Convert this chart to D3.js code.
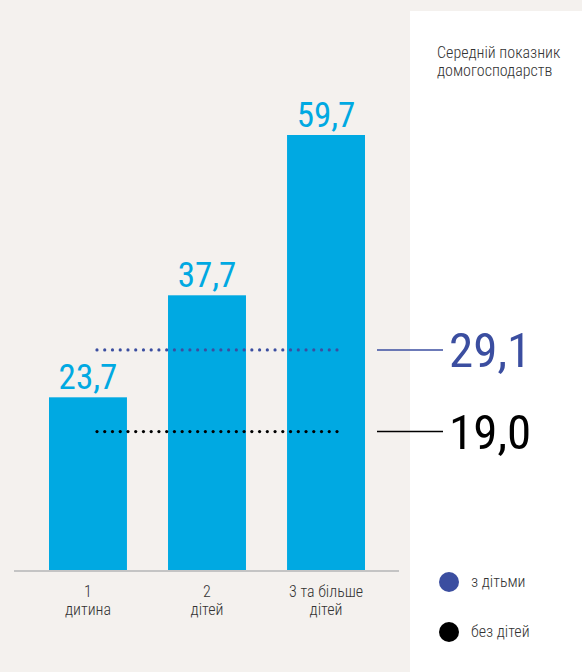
<!DOCTYPE html>
<html><head><meta charset="utf-8">
<script src="https://cdn.jsdelivr.net/npm/d3@7"></script>
<style>
html,body{margin:0;padding:0;background:#f4f1ee;}
svg{display:block;}
.cond{font-family:"Roboto Condensed","Liberation Sans Narrow","DejaVu Sans Condensed",sans-serif;}
.light{font-weight:300;}
</style></head>
<body>
<svg id="chart" width="582" height="672"></svg>
<script>
const categories = [["1","дитина"],["2","дітей"],["3 та більше","дітей"]];
const values = [23.7, 37.7, 59.7];
const valueLabels = ["23,7","37,7","59,7"];
const averages = [29.1, 19.0];
const averageLabels = ["29,1","19,0"];
const seriesNames = ["з дітьми","без дітей"];
const seriesColors = ["#3b4ea0","#000000"];
const title = ["Середній показник","домогосподарств"];

const svg = d3.select("#chart");
const W = 582, H = 672;
svg.append("rect").attr("width",W).attr("height",H).attr("fill","#f4f1ee");
svg.append("rect").attr("x",410).attr("y",11).attr("width",W-410).attr("height",H-11).attr("fill","#ffffff");

const baseY = 570;
const x = d3.scaleBand().domain(d3.range(values.length)).range([49,365]).paddingInner(0.345).paddingOuter(0);
const y = d3.scaleLinear().domain([0,59.7]).range([baseY,135]);

// bars
svg.selectAll(".bar").data(values).join("rect")
  .attr("x",(d,i)=>x(i)).attr("width",x.bandwidth())
  .attr("y",d=>y(d)).attr("height",d=>baseY-y(d))
  .attr("fill","#00a9e2");

// value labels
svg.selectAll(".vl").data(values).join("text").attr("class","cond")
  .attr("x",(d,i)=>x(i)+x.bandwidth()/2).attr("y",d=>y(d)-8)
  .attr("text-anchor","middle").attr("font-size",35).attr("fill","#00a9e2")
  .text((d,i)=>valueLabels[i]);

// baseline axis
const axis = d3.axisBottom(x).tickSize(0).tickFormat("");
const ag = svg.append("g").attr("transform",`translate(0,${baseY})`).call(axis);
ag.select(".domain").remove();
svg.append("line").attr("x1",14).attr("x2",399).attr("y1",baseY+1).attr("y2",baseY+1)
  .attr("stroke","#c4c4c4").attr("stroke-width",2);

// category labels
categories.forEach((c,i)=>{
  const t = svg.append("text").attr("class","cond light").attr("text-anchor","middle")
    .attr("font-size",16).attr("fill","#333");
  c.forEach((line,j)=>{
    t.append("tspan").attr("x",x(i)+x.bandwidth()/2).attr("y",597+j*18).text(line);
  });
});

// average dotted lines
const dotX0 = 97, dotX1 = 337;
averages.forEach((v,k)=>{
  const yy = y(v) + (k===0 ? -8 : 0);
  const n = Math.round((dotX1-dotX0)/7.67);
  const pts = d3.range(n+1).map(i=>dotX0 + i*(dotX1-dotX0)/n);
  svg.append("g").selectAll("circle").data(pts).join("circle")
    .attr("cx",d=>d).attr("cy",yy).attr("r",1.6).attr("fill",seriesColors[k]);
  svg.append("line").attr("x1",377).attr("x2",443).attr("y1",yy).attr("y2",yy)
    .attr("stroke",seriesColors[k]).attr("stroke-width",1.5);
  svg.append("text").attr("class","cond").attr("x",449).attr("y",yy+17)
    .attr("font-size",49).attr("fill",seriesColors[k]).text(averageLabels[k]);
});

// title
const tt = svg.append("text").attr("class","cond light").attr("font-size",16).attr("fill","#333");
title.forEach((l,j)=>tt.append("tspan").attr("x",437).attr("y",58+j*18).text(l));

// legend
seriesNames.forEach((n,k)=>{
  const ly = 582 + k*50;
  svg.append("circle").attr("cx",449).attr("cy",ly).attr("r",10).attr("fill",seriesColors[k]);
  svg.append("text").attr("class","cond light").attr("x",471).attr("y",ly+5)
    .attr("font-size",16).attr("fill","#333").text(n);
});
</script>
</body></html>
